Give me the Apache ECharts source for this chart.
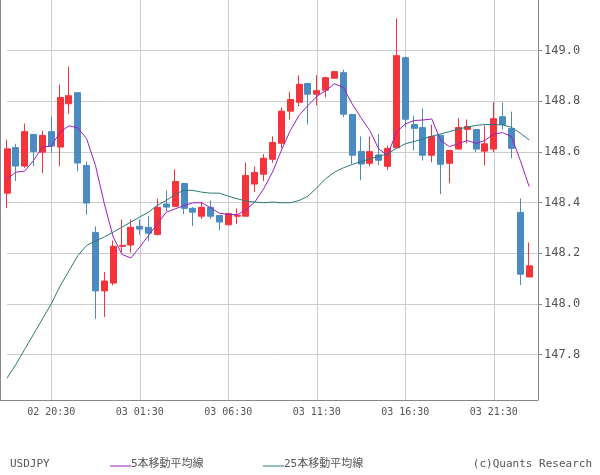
<!DOCTYPE html>
<html><head><meta charset="utf-8">
<script src="https://cdn.jsdelivr.net/npm/echarts@6/dist/echarts.min.js"></script>
<style>html,body{margin:0;padding:0;background:#fff}#c{width:600px;height:475px}</style>
</head><body><div id="c"></div>
<script>
const categories = (function(){const a=[];let d=2,h=18,m=0;for(let i=0;i<61;i++){a.push(String(d).padStart(2,'0')+' '+String(h).padStart(2,'0')+':'+String(m).padStart(2,'0'));m+=30;if(m===60){m=0;h++;if(h===24){h=0;d++;}}}return a;})();
const opens  = [148.437,148.617,148.544,148.669,148.599,148.680,148.619,148.790,148.834,148.546,148.282,148.051,148.082,148.227,148.232,148.306,148.302,148.274,148.394,148.385,148.475,148.377,148.346,148.381,148.349,148.312,148.346,148.346,148.473,148.512,148.571,148.634,148.761,148.796,148.870,148.828,148.844,148.891,148.913,148.748,148.602,148.555,148.588,148.543,148.616,148.972,148.708,148.696,148.587,148.666,148.555,148.611,148.689,148.688,148.603,148.611,148.739,148.692,148.361,148.106];
const closes = [148.612,148.544,148.680,148.602,148.665,148.623,148.815,148.822,148.556,148.398,148.051,148.090,148.227,148.231,148.302,148.295,148.279,148.381,148.382,148.483,148.377,148.362,148.381,148.346,148.323,148.356,148.350,148.507,148.519,148.575,148.637,148.761,148.807,148.867,148.828,148.842,148.893,148.917,148.749,148.587,148.552,148.601,148.567,148.613,148.980,148.729,148.693,148.587,148.661,148.551,148.605,148.696,148.700,148.611,148.632,148.731,148.708,148.614,148.117,148.150];
const lows   = [148.378,148.485,148.537,148.544,148.516,148.596,148.544,148.750,148.524,148.352,147.941,147.948,148.073,148.204,148.202,148.273,148.248,148.270,148.366,148.382,148.354,148.307,148.335,148.335,148.290,148.312,148.315,148.346,148.441,148.485,148.557,148.615,148.728,148.780,148.708,148.784,148.816,148.891,148.737,148.552,148.488,148.543,148.547,148.528,148.616,148.697,148.605,148.566,148.559,148.433,148.476,148.611,148.634,148.599,148.547,148.599,148.689,148.575,148.074,148.106];
const highs  = [148.648,148.632,148.712,148.669,148.684,148.740,148.866,148.937,148.834,148.562,148.306,148.126,148.250,148.333,148.333,148.333,148.346,148.415,148.448,148.531,148.478,148.382,148.402,148.408,148.349,148.358,148.377,148.558,148.542,148.591,148.661,148.776,148.838,148.903,148.870,148.903,148.897,148.917,148.925,148.748,148.661,148.661,148.671,148.625,149.127,148.977,148.743,148.771,148.708,148.666,148.609,148.735,148.728,148.688,148.704,148.796,148.795,148.759,148.416,148.242];
const ma5  = [148.494,148.520,148.524,148.566,148.619,148.623,148.678,148.703,148.695,148.652,148.546,148.395,148.264,148.195,148.181,148.224,148.270,148.316,148.362,148.375,148.388,148.399,148.399,148.379,148.358,148.353,148.352,148.371,148.402,148.454,148.520,148.606,148.684,148.744,148.783,148.819,148.842,148.869,148.855,148.790,148.735,148.684,148.612,148.586,148.678,148.710,148.724,148.726,148.730,148.645,148.621,148.632,148.645,148.634,148.645,148.671,148.676,148.661,148.566,148.463];
const ma25 = [147.706,147.76,147.82,147.88,147.94,148.00,148.07,148.13,148.19,148.231,148.248,148.264,148.283,148.303,148.323,148.343,148.362,148.389,148.408,148.432,148.449,148.448,148.441,148.437,148.437,148.425,148.415,148.406,148.402,148.399,148.402,148.399,148.399,148.408,148.425,148.458,148.494,148.520,148.537,148.550,148.562,148.572,148.583,148.592,148.614,148.632,148.641,148.651,148.662,148.671,148.680,148.691,148.697,148.705,148.708,148.708,148.707,148.697,148.674,148.647];
const yTicks = [147.8,148.0,148.2,148.4,148.6,148.8,149.0];

const ohlc = opens.map((o,i)=>[o,closes[i],lows[i],highs[i]]);
const chart = echarts.init(document.getElementById('c'));
const F = "'DejaVu Sans Mono','Noto Sans CJK JP',monospace";
chart.setOption({
  animation:false,
  grid:{left:7,right:62,top:0,bottom:75,show:false},
  xAxis:{type:'category',data:categories,boundaryGap:false,
    axisLine:{show:false},axisTick:{show:false},
    axisLabel:{interval:(i)=>i%10===5,color:'#555',fontSize:10,fontFamily:F,margin:7},
    splitLine:{show:true,interval:(i)=>i%10===5,lineStyle:{color:'#ccc'}}},
  yAxis:{type:'value',position:'right',min:147.62,max:149.2,scale:true,
    axisLine:{show:true,lineStyle:{color:'#888'}},
    axisTick:{show:true,customValues:yTicks,length:4,lineStyle:{color:'#888'}},
    axisLabel:{customValues:yTicks,color:'#555',fontSize:12,fontFamily:F,margin:6,formatter:v=>v.toFixed(1)},
    splitLine:{show:true,lineStyle:{color:'#ccc'}}},
  series:[
    {type:'candlestick',data:ohlc,barWidth:6.5,
     itemStyle:{color:'#f5333a',color0:'#4a8bc2',borderColor:'#f5333a',borderColor0:'#4a8bc2',borderWidth:1}},
    {type:'line',data:ma5,symbol:'none',lineStyle:{color:'#9b1fc0',width:1}},
    {type:'line',data:ma25,symbol:'none',lineStyle:{color:'#2a7a78',width:1}}
  ],
  graphic:[
    {type:'line',shape:{x1:0.5,y1:0,x2:0.5,y2:400},style:{stroke:'#888',lineWidth:1}},
    {type:'line',shape:{x1:0,y1:400.5,x2:538,y2:400.5},style:{stroke:'#888',lineWidth:1}},
    {type:'text',left:10,top:459,style:{text:'USDJPY',fill:'#555',font:'11px '+F}},
    {type:'line',shape:{x1:110,y1:466,x2:131,y2:466},style:{stroke:'#9b1fc0',lineWidth:1}},
    {type:'text',left:131,top:459,style:{text:'5本移動平均線',fill:'#555',font:'11px '+F}},
    {type:'line',shape:{x1:263,y1:466,x2:284,y2:466},style:{stroke:'#2a7a78',lineWidth:1}},
    {type:'text',left:284,top:459,style:{text:'25本移動平均線',fill:'#555',font:'11px '+F}},
    {type:'text',right:8,top:459,style:{text:'(c)Quants Research',fill:'#555',font:'11px '+F}}
  ]
});
</script></body></html>
